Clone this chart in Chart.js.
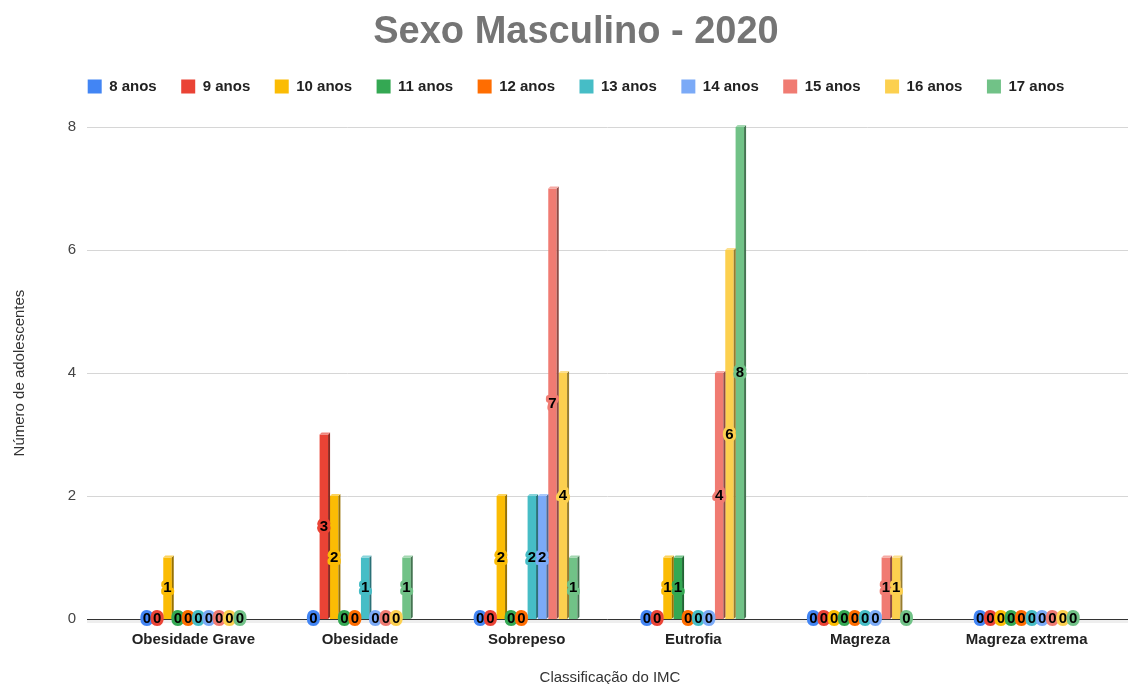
<!DOCTYPE html>
<html>
<head>
<meta charset="utf-8">
<title>Sexo Masculino - 2020</title>
<script src="https://cdn.jsdelivr.net/npm/chart.js@4.4.1/dist/chart.umd.min.js"></script>
<style>
  html, body { margin: 0; padding: 0; background: #fff; }
  canvas { display: block; }
</style>
</head>
<body>
<canvas id="grafico" width="1128" height="684"></canvas>
<script>
// categorias do IMC e faixas etárias
const categorias = ['Obesidade Grave', 'Obesidade', 'Sobrepeso', 'Eutrofia', 'Magreza', 'Magreza extrema'];
const faixas = ['8 anos', '9 anos', '10 anos', '11 anos', '12 anos', '13 anos', '14 anos', '15 anos', '16 anos', '17 anos'];
const cores = ['#4285F4', '#EA4335', '#FBBC04', '#34A853', '#FF6D01', '#46BDC6', '#7BAAF7', '#F07B72', '#FCD04F', '#71C287'];

// número de adolescentes por idade (uma posição por categoria)
const anos8  = [0, 0, 0, 0, 0, 0];
const anos9  = [0, 3, 0, 0, 0, 0];
const anos10 = [1, 2, 2, 1, 0, 0];
const anos11 = [0, 0, 0, 1, 0, 0];
const anos12 = [0, 0, 0, 0, 0, 0];
const anos13 = [0, 1, 2, 0, 0, 0];
const anos14 = [0, 0, 2, 0, 0, 0];
const anos15 = [0, 0, 7, 4, 1, 0];
const anos16 = [0, 0, 4, 6, 1, 0];
const anos17 = [0, 1, 1, 8, 0, 0];
const valores = [anos8, anos9, anos10, anos11, anos12, anos13, anos14, anos15, anos16, anos17];

const ticksY = [0, 2, 4, 6, 8];

function tom(hex, f) {
  var r = parseInt(hex.substr(1, 2), 16), g = parseInt(hex.substr(3, 2), 16), b = parseInt(hex.substr(5, 2), 16);
  if (f < 1) { r *= f; g *= f; b *= f; }
  else { r += (255 - r) * (f - 1); g += (255 - g) * (f - 1); b += (255 - b) * (f - 1); }
  return 'rgb(' + Math.round(r) + ',' + Math.round(g) + ',' + Math.round(b) + ')';
}

// espaço extra entre a legenda e a área do gráfico
const espacoPlugin = {
  id: 'espaco',
  beforeInit(chart) {
    Chart.layouts.addBox(chart, {
      position: 'top',
      weight: 500,
      fullSize: true,
      options: {},
      width: 0,
      height: 0,
      isHorizontal() { return true; },
      update(maxWidth) { this.width = maxWidth; this.height = 23; },
      draw() {}
    });
  }
};

// linhas de grade mais largas que a área das barras
const gradePlugin = {
  id: 'grade',
  beforeDatasetsDraw(chart) {
    const ctx = chart.ctx, y = chart.scales.y, area = chart.chartArea;
    const x0 = area.left - 23, x1 = chart.width;
    ctx.save();
    ticksY.forEach(function (v) {
      const py = Math.round(y.getPixelForValue(v)) + 0.5;
      ctx.beginPath();
      if (v === 0) {
        ctx.strokeStyle = '#eeeeee';
        ctx.lineWidth = 3;
        ctx.moveTo(x0, py + 2); ctx.lineTo(x1, py + 2);
        ctx.stroke();
        ctx.beginPath();
        ctx.strokeStyle = '#333333';
        ctx.lineWidth = 1;
      } else {
        ctx.strokeStyle = '#d6d6d6';
        ctx.lineWidth = 1;
      }
      ctx.moveTo(x0, py); ctx.lineTo(x1, py);
      ctx.stroke();
    });
    ctx.restore();
  }
};

// lateral/topo das barras (efeito 3D) e rótulos com os valores
const barras3dPlugin = {
  id: 'barras3d',
  afterDatasetsDraw(chart) {
    const ctx = chart.ctx;
    const d = 2;
    ctx.save();
    chart.data.datasets.forEach(function (ds, i) {
      const meta = chart.getDatasetMeta(i);
      meta.data.forEach(function (el, j) {
        if (!ds.data[j]) return;
        const l = el.x - el.width / 2, r = el.x + el.width / 2, top = el.y, base = el.base;
        ctx.fillStyle = tom(ds.backgroundColor, 0.6);
        ctx.beginPath();
        ctx.moveTo(r, top); ctx.lineTo(r + d, top - d); ctx.lineTo(r + d, base - d); ctx.lineTo(r, base);
        ctx.closePath(); ctx.fill();
        ctx.fillStyle = tom(ds.backgroundColor, 1.35);
        ctx.beginPath();
        ctx.moveTo(l, top); ctx.lineTo(l + d, top - d); ctx.lineTo(r + d, top - d); ctx.lineTo(r, top);
        ctx.closePath(); ctx.fill();
      });
    });
    ctx.font = 'bold 15px "Liberation Sans", Arial, sans-serif';
    ctx.textAlign = 'center';
    ctx.textBaseline = 'middle';
    ctx.lineJoin = 'round';
    chart.data.datasets.forEach(function (ds, i) {
      const meta = chart.getDatasetMeta(i);
      meta.data.forEach(function (el, j) {
        const v = ds.data[j];
        const px = el.x, py = (el.y + el.base) / 2;
        ctx.strokeStyle = ds.backgroundColor;
        ctx.lineWidth = 6;
        ctx.strokeText(String(v), px, py);
        ctx.fillStyle = '#000';
        ctx.fillText(String(v), px, py);
      });
    });
    ctx.restore();
  }
};

const fonte = '"Liberation Sans", Arial, sans-serif';

new Chart(document.getElementById('grafico'), {
  type: 'bar',
  data: {
    labels: categorias,
    datasets: faixas.map(function (f, i) {
      return {
        label: f,
        data: valores[i],
        backgroundColor: cores[i],
        borderWidth: 0,
        barPercentage: 0.82,
        categoryPercentage: 0.62
      };
    })
  },
  options: {
    responsive: false,
    animation: false,
    devicePixelRatio: 1,
    layout: { padding: { left: 42, right: 18, top: 0, bottom: 0 } },
    plugins: {
      tooltip: { enabled: false },
      title: {
        display: true,
        text: 'Sexo Masculino - 2020',
        color: '#757575',
        font: { family: fonte, size: 38, weight: 'bold' },
        padding: { top: 10, bottom: -1 }
      },
      legend: {
        position: 'top',
        labels: {
          boxWidth: 14,
          boxHeight: 14,
          padding: 24.5,
          color: '#222',
          font: { family: fonte, size: 15, weight: 'bold' }
        }
      }
    },
    scales: {
      x: {
        grid: { display: false, drawTicks: false },
        border: { display: false },
        ticks: {
          color: '#222',
          padding: 12,
          maxRotation: 0,
          font: { family: fonte, size: 15, weight: 'bold' }
        },
        title: {
          display: true,
          text: 'Classificação do IMC',
          color: '#333',
          font: { family: fonte, size: 15 },
          padding: { top: 18, bottom: -3 }
        },
        afterFit: function (s) { s.height = 65; }
      },
      y: {
        min: 0,
        max: 8,
        grid: { display: false, drawTicks: false },
        border: { display: false },
        ticks: {
          stepSize: 2,
          color: '#444',
          padding: 34,
          font: { family: fonte, size: 15 }
        },
        title: {
          display: true,
          text: 'Número de adolescentes',
          color: '#333',
          font: { family: fonte, size: 15 },
          padding: { top: -31, bottom: 0 }
        },
        afterFit: function (s) { s.width = 68; }
      }
    }
  },
  plugins: [espacoPlugin, gradePlugin, barras3dPlugin]
});
</script>
</body>
</html>
